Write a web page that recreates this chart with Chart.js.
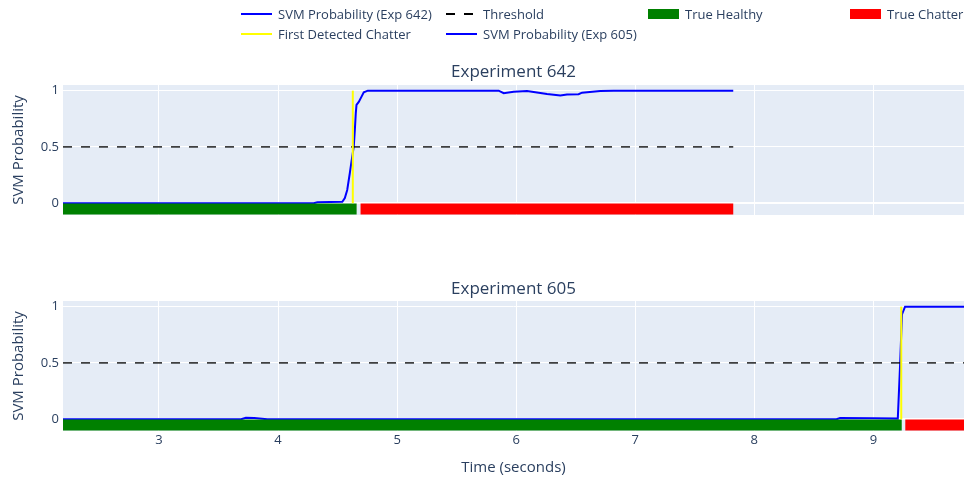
<!DOCTYPE html>
<html>
<head>
<meta charset="utf-8">
<script src="https://cdn.jsdelivr.net/npm/chart.js@4"></script>
<style>
html,body{margin:0;padding:0;background:#fff;width:964px;height:481px;overflow:hidden;font-family:"Open Sans",sans-serif;}
#c1{position:absolute;left:0;top:0;}
#c2{position:absolute;left:0;top:230px;}
#legend{position:absolute;left:0;top:0;width:964px;height:46px;z-index:2;}
.li{position:absolute;height:20px;font-size:13px;line-height:20px;color:#2a3f5f;white-space:nowrap;}
.sym{position:absolute;top:0;}
</style>
</head>
<body>
<canvas id="c1" width="964" height="230"></canvas>
<canvas id="c2" width="964" height="251"></canvas>
<div id="legend"></div>
<script>
// ---------- data ----------
const xMin = 2.194, xMax = 9.761;
const yMin = -0.105, yMax = 1.05;
const xTicks = [3, 4, 5, 6, 7, 8, 9];
const yTicks = [0, 0.5, 1];
const threshold = 0.5;
const labelLevel = -0.052;

const exp642Time = [2.194, 3.0, 4.0, 4.30, 4.33, 4.54, 4.561, 4.581, 4.603, 4.623, 4.636, 4.645, 4.653, 4.659, 4.678, 4.698, 4.720, 4.754, 5.853, 5.895, 5.979, 6.091, 6.259, 6.371, 6.427, 6.524, 6.553, 6.706, 6.818, 7.823];
const exp642Prob = [0.0, 0.0, 0.0, 0.0, 0.009, 0.012, 0.045, 0.117, 0.268, 0.414, 0.503, 0.651, 0.80, 0.873, 0.90, 0.94, 0.985, 1.0, 1.0, 0.977, 0.99, 0.997, 0.97, 0.956, 0.965, 0.968, 0.982, 0.997, 1.0, 1.0];
const exp642Healthy = [2.194, 4.660];
const exp642Chatter = [4.693, 7.823];
const exp642Detect = 4.628;

const exp605Time = [2.194, 3.0, 3.69, 3.73, 3.80, 3.91, 5.0, 7.0, 8.69, 8.72, 9.0, 9.205, 9.225, 9.240, 9.266, 9.761];
const exp605Prob = [0.0, 0.0, 0.0, 0.012, 0.01, 0.0, 0.0, 0.0, 0.0, 0.01, 0.008, 0.005, 0.5, 0.93, 1.0, 1.0];
const exp605Healthy = [2.194, 9.238];
const exp605Chatter = [9.268, 9.761];
const exp605Detect = 9.234;

const subplotTitles = ['Experiment 642', 'Experiment 605'];
const xTitle = 'Time (seconds)';
const yTitle = 'SVM Probability';
const legendLabels = ['SVM Probability (Exp 642)', 'Threshold', 'True Healthy', 'True Chatter', 'First Detected Chatter', 'SVM Probability (Exp 605)'];

// ---------- styles ----------
const FONT = '"Open Sans", sans-serif';
const TXT = '#2a3f5f';
const BLUE = '#0000ff', YELLOW = '#ffff00', GREEN = '#008000', RED = '#ff0000';

// ---------- legend (HTML) ----------
const legendItems = [
  {label: legendLabels[0], kind: 'line', color: BLUE, x: 241, row: 0},
  {label: legendLabels[1], kind: 'dash', color: '#000', x: 446, row: 0},
  {label: legendLabels[2], kind: 'box', color: GREEN, x: 648, row: 0},
  {label: legendLabels[3], kind: 'box', color: RED, x: 850, row: 0},
  {label: legendLabels[4], kind: 'line', color: YELLOW, x: 241, row: 1},
  {label: legendLabels[5], kind: 'line', color: BLUE, x: 446, row: 1}
];
const leg = document.getElementById('legend');
legendItems.forEach(it => {
  const d = document.createElement('div');
  d.className = 'li';
  d.style.left = it.x + 'px';
  d.style.top = (4 + it.row * 20) + 'px';
  let svg;
  if (it.kind === 'line') svg = `<svg class="sym" width="31" height="20"><line x1="0" y1="10" x2="31" y2="10" stroke="${it.color}" stroke-width="2"/></svg>`;
  else if (it.kind === 'dash') svg = `<svg class="sym" width="31" height="20"><line x1="0" y1="10" x2="31" y2="10" stroke="${it.color}" stroke-width="2" stroke-dasharray="9,9"/></svg>`;
  else svg = `<svg class="sym" width="31" height="20"><rect x="0" y="5" width="31" height="10" fill="${it.color}"/></svg>`;
  d.innerHTML = svg + `<span style="position:absolute;left:37px;top:0;">${it.label}</span>`;
  leg.appendChild(d);
});

// ---------- charts ----------
const bgPlugin = {
  id: 'bg',
  beforeDraw(chart) {
    const {ctx, chartArea: a} = chart;
    ctx.save();
    ctx.fillStyle = '#E5ECF6';
    ctx.fillRect(a.left, a.top, a.right - a.left, a.bottom - a.top);
    ctx.restore();
  }
};

function pts(xs, ys) { return xs.map((x, i) => ({x: x, y: ys[i]})); }

function makeChart(id, o) {
  const t0 = o.time[0], t1 = o.time[o.time.length - 1];
  return new Chart(document.getElementById(id), {
    type: 'line',
    data: {
      datasets: [
        {label: legendLabels[4], data: [{x: o.detect, y: 0}, {x: o.detect, y: 1}], borderColor: YELLOW, borderWidth: 2},
        {label: legendLabels[3], data: [{x: o.chatter[0], y: labelLevel}, {x: o.chatter[1], y: labelLevel}], borderColor: RED, borderWidth: 11, borderCapStyle: 'butt'},
        {label: legendLabels[2], data: [{x: o.healthy[0], y: labelLevel}, {x: o.healthy[1], y: labelLevel}], borderColor: GREEN, borderWidth: 11, borderCapStyle: 'butt'},
        {label: legendLabels[1], data: [{x: t0, y: threshold}, {x: t1, y: threshold}], borderColor: '#000', borderWidth: 1.3, borderDash: [9, 9]},
        {label: o.label, data: pts(o.time, o.prob), borderColor: BLUE, borderWidth: 2}
      ]
    },
    options: {
      responsive: false,
      animation: false,
      events: [],
      elements: {point: {radius: 0}, line: {tension: 0, fill: false}},
      layout: {padding: {top: o.padTop, left: 0, right: 0, bottom: 0}},
      plugins: {
        legend: {display: false},
        tooltip: {enabled: false},
        title: {display: true, text: o.title, fullSize: false, color: TXT,
                font: {family: FONT, size: 17, weight: 'normal'}, padding: o.titlePad}
      },
      scales: {
        x: {
          type: 'linear', min: xMin, max: xMax,
          border: {display: false},
          grid: {color: '#ffffff', lineWidth: 1, drawTicks: false},
          afterBuildTicks: s => { s.ticks = xTicks.map(v => ({value: v})); },
          ticks: {display: o.showX, color: TXT, font: {family: FONT, size: 13}, padding: 1.2, maxRotation: 0},
          title: {display: o.showX, text: xTitle, color: TXT, font: {family: FONT, size: 15}, padding: {top: 4, bottom: 4}},
          afterFit: s => { s.height = o.xH; }
        },
        y: {
          type: 'linear', min: yMin, max: yMax,
          border: {display: false},
          grid: {color: '#ffffff', lineWidth: c => (c.tick && c.tick.value === 0 ? 2 : 1), drawTicks: false},
          afterBuildTicks: s => { s.ticks = yTicks.map(v => ({value: v})); },
          ticks: {color: TXT, font: {family: FONT, size: 13}, padding: 4, callback: v => String(v)},
          title: {display: true, text: yTitle, color: TXT, font: {family: FONT, size: 15}, padding: {top: 9.5, bottom: 0}},
          afterFit: s => { s.width = 63; }
        }
      }
    },
    plugins: [bgPlugin]
  });
}

makeChart('c1', {
  label: legendLabels[0], title: subplotTitles[0],
  time: exp642Time, prob: exp642Prob, healthy: exp642Healthy, chatter: exp642Chatter, detect: exp642Detect,
  padTop: 50, titlePad: {top: 11.8, bottom: 2.8}, showX: false, xH: 15
});
makeChart('c2', {
  label: legendLabels[5], title: subplotTitles[1],
  time: exp605Time, prob: exp605Prob, healthy: exp605Healthy, chatter: exp605Chatter, detect: exp605Detect,
  padTop: 36, titlePad: {top: 12.8, bottom: 1.8}, showX: true, xH: 50
});
</script>
</body>
</html>
